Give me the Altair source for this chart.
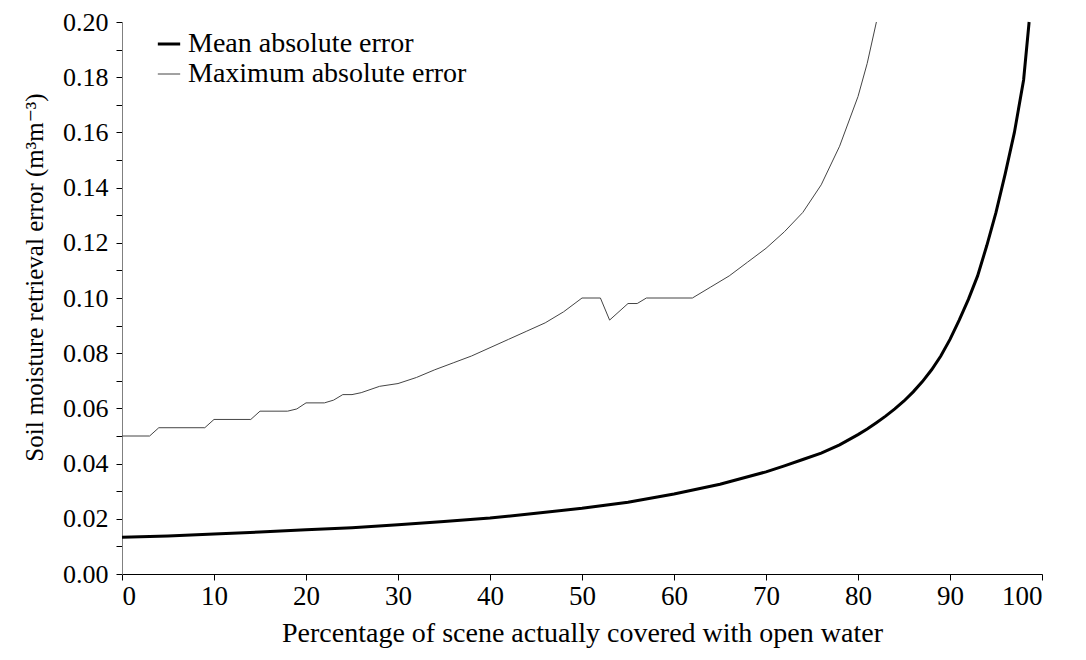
import altair as alt
import pandas as pd

# Maximum absolute error series
max_x = [0, 3, 4, 9, 10, 14, 15, 18, 19, 20, 22, 23, 24, 25, 26, 28, 30, 32, 34, 36, 38,
         40, 42, 44, 46, 48, 50, 52, 53, 55, 56, 57, 62, 64, 66, 68, 70, 72, 74, 76, 78,
         80, 81, 82]
max_y = [0.050, 0.050, 0.053, 0.053, 0.056, 0.056, 0.059, 0.059, 0.0598, 0.062, 0.062,
         0.063, 0.065, 0.065, 0.0657, 0.068, 0.069, 0.0712, 0.074, 0.0765, 0.079,
         0.082, 0.085, 0.088, 0.091, 0.095, 0.100, 0.100, 0.092, 0.098, 0.098, 0.100,
         0.100, 0.104, 0.108, 0.113, 0.118, 0.124, 0.131, 0.141, 0.155, 0.173, 0.185, 0.200]

# Mean absolute error series
mean_x = [0, 5, 10, 15, 20, 25, 30, 35, 40, 45, 50, 55, 60, 65, 70, 72, 74, 76, 78, 80,
          81, 82, 83, 84, 85, 86, 87, 88, 89, 90, 91, 92, 93, 94, 95, 96, 97, 98, 98.6]
mean_y = [0.0133, 0.0138, 0.0145, 0.0152, 0.016, 0.0168, 0.0178, 0.019, 0.0203, 0.022,
          0.0238, 0.026, 0.029, 0.0325, 0.037, 0.0392, 0.0415, 0.0438, 0.0468, 0.0505,
          0.0525, 0.0548, 0.0572, 0.0598, 0.0627, 0.066, 0.0697, 0.074, 0.079, 0.085,
          0.092, 0.0995, 0.108, 0.119, 0.131, 0.145, 0.160, 0.179, 0.200]

series_names = ["Mean absolute error", "Maximum absolute error"]

df = pd.concat([
    pd.DataFrame({"x": mean_x, "y": mean_y, "series": series_names[0], "order": range(len(mean_x))}),
    pd.DataFrame({"x": max_x, "y": max_y, "series": series_names[1], "order": range(len(max_x))}),
])

FONT = "'Liberation Serif', 'Times New Roman', Times, 'DejaVu Serif', serif"

y_ticks = [round(i * 0.01, 2) for i in range(21)]
x_ticks = list(range(0, 101, 10))

chart = alt.Chart(df).mark_line(interpolate="linear").encode(
    x=alt.X("x:Q", scale=alt.Scale(domain=[0, 100], nice=False),
            axis=alt.Axis(title="Percentage of scene actually covered with open water",
                          values=x_ticks, format="d", grid=False,
                          labelFont=FONT, titleFont=FONT, labelFontSize=27, titleFontSize=28,
                          titlePadding=10, labelPadding=3)),
    y=alt.Y("y:Q", scale=alt.Scale(domain=[0, 0.2], nice=False),
            axis=alt.Axis(title="Soil moisture retrieval error (m³m⁻³)",
                          values=y_ticks, grid=False,
                          labelFont=FONT, titleFont=FONT, labelFontSize=26, titleFontSize=25,
                          titlePadding=15, labelPadding=8, domainColor="#808080", titleY=255,
                          labelExpr="round(datum.value*100) % 2 == 0 ? format(datum.value, '.2f') : ''")),
    color=alt.Color("series:N", scale=alt.Scale(domain=series_names, range=["#000000", "#444444"]),
                    legend=alt.Legend(title=None, orient="none", legendX=33, legendY=8,
                                      symbolType="stroke", symbolSize=500, labelFont=FONT,
                                      labelFontSize=28, labelColor="#000000", padding=0,
                                      rowPadding=2, labelOffset=5, symbolStrokeWidth=2,
                                      labelLimit=0)),
    strokeWidth=alt.StrokeWidth("series:N", scale=alt.Scale(domain=series_names, range=[3, 1]),
                                legend=None),
    order="order:Q",
).properties(
    width=920, height=552,
    autosize=alt.AutoSizeParams(type="none"),
    padding={"left": 114, "top": 14, "right": 36, "bottom": 80},
).configure_view(
    stroke=None
).configure_axis(
    labelColor="#000000", titleColor="#000000", titleFontWeight="normal",
    tickSize=6, tickColor="#000000", domainColor="#000000", tickWidth=1, domainWidth=1,
)

chart.save("out.html", embed_options={"renderer": "svg", "actions": False})
